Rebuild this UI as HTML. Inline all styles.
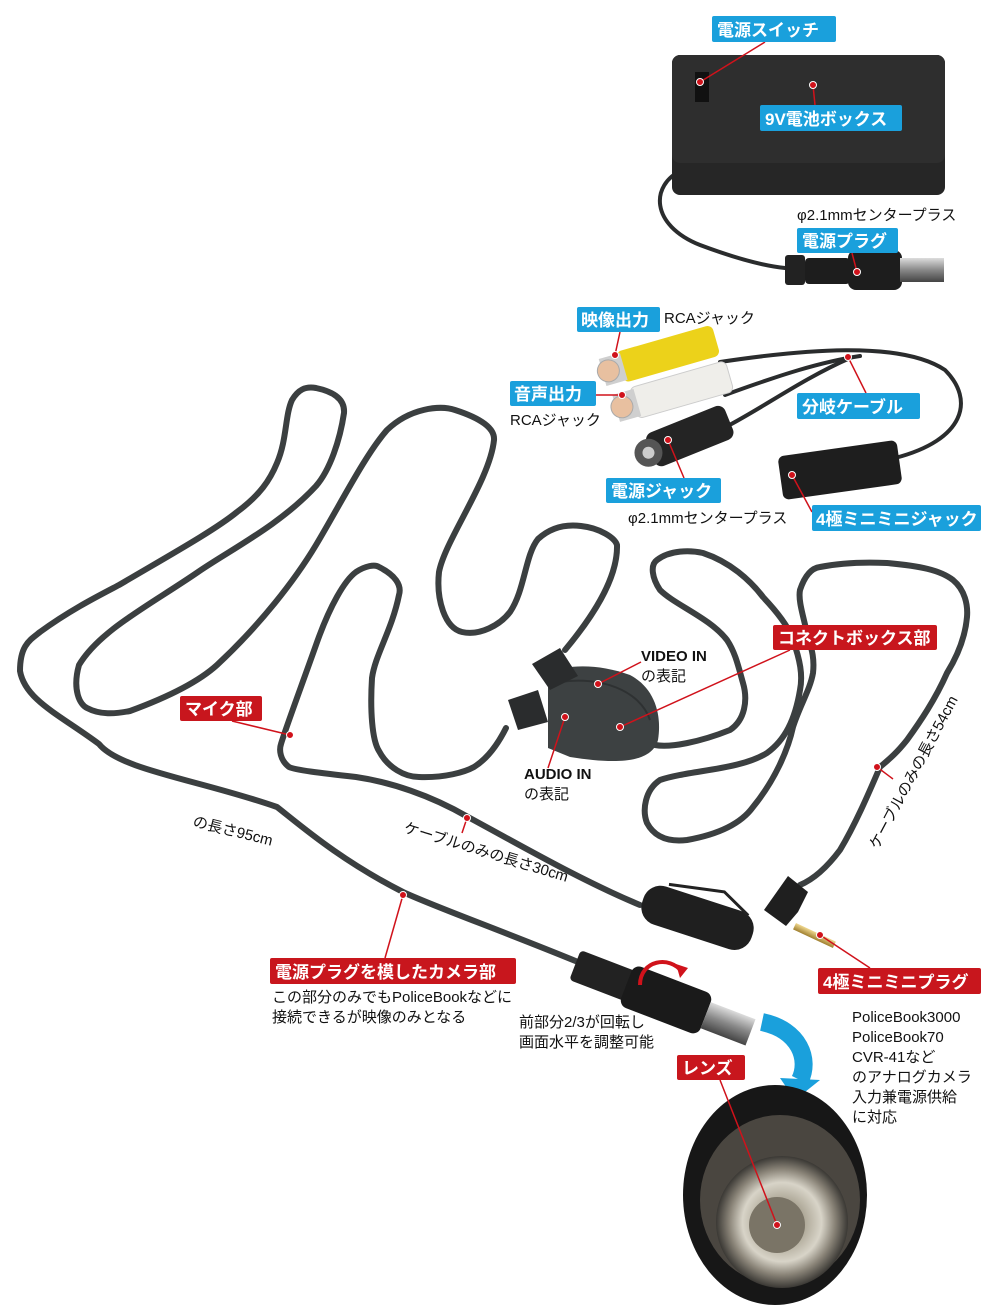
<!DOCTYPE html>
<html><head><meta charset="utf-8"><style>
html,body{margin:0;padding:0;background:#fff}
svg{display:block}
text{font-family:"Liberation Sans Narrow","Liberation Sans","Noto Sans CJK JP",sans-serif}
.lb{font-family:"Liberation Sans","Noto Sans CJK JP",sans-serif;font-weight:bold;fill:#fff;font-size:17px}
.t{fill:#111;font-size:15px}
.b{fill:#111;font-size:15px;font-weight:bold}
.c{fill:none;stroke:#3b3f40;stroke-width:6;stroke-linecap:round;stroke-linejoin:round}
.c2{fill:none;stroke:#2a2c2d;stroke-width:4;stroke-linecap:round;stroke-linejoin:round}
.ld{stroke:#d0121b;stroke-width:1.5;fill:none}
.dot{fill:#d0121b;stroke:#fff;stroke-width:1}
</style></head><body>
<svg width="1000" height="1310" viewBox="0 0 1000 1310" xmlns="http://www.w3.org/2000/svg">
<defs>
<linearGradient id="met" x1="0" y1="0" x2="0" y2="1"><stop offset="0" stop-color="#ddd"/><stop offset=".5" stop-color="#888"/><stop offset="1" stop-color="#444"/></linearGradient>
<linearGradient id="gold" x1="0" y1="0" x2="0" y2="1"><stop offset="0" stop-color="#f0d890"/><stop offset="1" stop-color="#a08030"/></linearGradient>
<radialGradient id="lens" cx=".5" cy=".5" r=".5"><stop offset="0" stop-color="#6a6658"/><stop offset=".35" stop-color="#b0aa9a"/><stop offset=".6" stop-color="#d8d4c8"/><stop offset=".8" stop-color="#8a8478"/><stop offset="1" stop-color="#3a3834"/></radialGradient>
</defs>

<!-- battery box -->
<path class="c2" d="M682,170 C650,185 650,225 700,245 C740,260 765,266 785,268"/>
<rect x="672" y="55" width="273" height="140" rx="8" fill="#262626"/>
<rect x="672" y="55" width="273" height="108" rx="8" fill="#2e2e2e"/>
<rect x="695" y="72" width="14" height="30" fill="#111"/>
<rect x="785" y="255" width="20" height="30" rx="3" fill="#222"/>
<rect x="805" y="258" width="45" height="26" rx="4" fill="#1d1d1d"/>
<rect x="848" y="250" width="54" height="40" rx="8" fill="#1d1d1d"/>
<rect x="900" y="258" width="44" height="24" fill="url(#met)"/>

<!-- branch cable -->
<path class="c2" d="M720,362 C800,350 900,340 945,370 C975,400 965,440 895,458"/>
<path class="c2" d="M725,395 C780,375 820,362 860,356"/>
<path class="c2" d="M720,430 C760,410 800,380 850,358"/>
<g transform="rotate(-8 840 470)"><rect x="780" y="448" width="120" height="44" rx="6" fill="#1e1e1e"/></g>
<g transform="rotate(-16 660 355)">
<rect x="618" y="340" width="100" height="32" rx="6" fill="#ecd21a"/>
<rect x="600" y="342" width="22" height="28" fill="#cfcfcf"/><circle cx="606" cy="356" r="11" fill="#e8c0a0" stroke="#aaa"/></g>
<g transform="rotate(-16 670 393)">
<rect x="632" y="377" width="100" height="32" rx="6" fill="#efeeea" stroke="#ccc"/>
<rect x="614" y="379" width="22" height="28" fill="#cfcfcf"/><circle cx="620" cy="393" r="11" fill="#e8c0a0" stroke="#aaa"/></g>
<g transform="rotate(-22 680 440)">
<rect x="648" y="422" width="85" height="36" rx="8" fill="#242424"/>
<circle cx="646" cy="440" r="14" fill="#555"/><circle cx="646" cy="440" r="6" fill="#ccc"/></g>

<!-- long cable (camera -> video in) -->
<path class="c" d="M578,962 C500,930 430,905 403,892 C340,860 300,825 277,807 C200,780 120,770 99,744 C60,715 25,700 20,671 C20,645 30,640 40,632 C70,610 100,595 119,585 C170,555 215,530 237,512 C260,495 270,480 277,463 C287,440 285,415 292,400 C298,390 305,386 316,388 C335,392 345,400 344,413 C340,440 330,470 316,486 C280,525 230,550 198,572 C150,605 100,630 79,665 C72,690 80,705 87,708 C100,715 115,714 130,711 C160,700 195,685 217,665 C260,625 295,580 316,545 C340,505 365,455 387,430 C410,408 440,405 455,410 C480,418 495,428 494,440 C490,480 445,540 439,572 C436,600 445,628 462,632 C480,636 500,625 510,612 C525,590 525,555 538,539 C550,528 565,524 581,526 C600,528 615,538 617,545 C618,580 590,620 565,650"/>
<!-- mic cable -->
<path class="c" d="M640,905 C580,880 520,845 468,817 C430,795 390,782 356,777 C320,773 295,770 289,767 C280,760 279,750 281,744 C285,730 300,690 316,645 C330,605 345,580 356,572 C365,566 375,564 379,567 C395,575 402,585 399,595 C392,630 375,655 372,678 C370,710 372,740 379,751 C388,768 405,777 419,777 C445,778 465,772 474,767 C490,757 500,740 506,728"/>
<!-- right cable -->
<path class="c" d="M655,745 C670,748 700,742 730,730 C745,720 748,700 743,683 C738,665 735,652 727,640 C710,618 675,605 660,590 C652,578 650,565 657,560 C670,550 690,550 703,553 C730,562 750,580 763,597 C780,615 790,630 793,640 C800,660 803,675 800,690 C795,720 785,740 767,753 C740,770 690,770 660,780 C645,790 642,810 647,823 C655,838 670,842 687,840 C715,835 740,825 753,807 C775,780 788,750 793,727 C800,705 810,690 813,673 C815,655 810,645 807,633 C803,615 798,600 800,590 C805,575 812,568 820,567 C840,563 865,562 887,563 C920,566 940,570 953,580 C965,590 968,605 967,617 C965,640 955,660 947,673 C935,700 920,722 907,740 C895,755 888,760 880,767 C868,795 855,825 840,850 C825,870 812,880 800,885"/>
<!-- connect box -->
<path d="M548,672 C570,664 600,664 630,675 C655,688 662,715 658,740 C652,762 620,765 570,757 L548,748 Z" fill="#3d4142"/>
<path d="M560,682 C600,676 640,690 650,720" stroke="#2e3132" stroke-width="2" fill="none"/>
<path d="M532,664 l28,-16 l18,28 l-28,14 z" fill="#2a2c2d"/>
<path d="M508,700 l30,-10 l10,32 l-30,8 z" fill="#2a2c2d"/>
<!-- mic -->
<g transform="rotate(18 698 918)">
<rect x="640" y="898" width="115" height="40" rx="18" fill="#1f1f1f"/>
<path d="M660,895 l55,-10 l30,15" stroke="#222" stroke-width="3" fill="none"/>
</g>
<!-- 4 pole plug -->
<path d="M788,876 l20,16 l-10,20 l-12,14 l-22,-16 z" fill="#1f1f1f"/>
<rect x="796" y="923" width="44" height="7" fill="url(#gold)" transform="rotate(25 796 923)"/>
<!-- camera plug -->
<g transform="translate(575,965) rotate(21)">
<rect x="0" y="-16" width="60" height="32" rx="4" fill="#222"/>
<rect x="55" y="-22" width="85" height="44" rx="8" fill="#1a1a1a"/>
<rect x="140" y="-14" width="48" height="28" fill="url(#met)"/>
</g>
<path d="M640,985 C640,960 670,955 682,972" stroke="#d0121b" stroke-width="4" fill="none"/>
<polygon points="676,964 688,968 680,978" fill="#d0121b"/>
<!-- blue arrow -->
<path d="M762,1022 C800,1030 810,1060 800,1080" stroke="#1aa0dc" stroke-width="18" fill="none"/>
<polygon points="780,1078 820,1080 795,1100" fill="#1aa0dc"/>
<!-- lens -->
<ellipse cx="775" cy="1195" rx="92" ry="110" fill="#171717"/>
<ellipse cx="780" cy="1200" rx="80" ry="85" fill="#4a4640"/>
<circle cx="782" cy="1222" r="66" fill="url(#lens)"/>
<circle cx="777" cy="1225" r="28" fill="#7a7466"/>
<circle cx="777" cy="1225" r="4" fill="#222"/>

<!-- leaders -->
<g class="ld">
<path d="M765,42 L700,82"/><path d="M815,105 L813,85"/>
<path d="M852,253 L857,272"/><path d="M620,332 L615,355"/>
<path d="M596,395 L622,395"/><path d="M866,393 L848,357"/>
<path d="M684,478 L668,440"/><path d="M812,512 L792,475"/>
<path d="M641,662 L598,684"/><path d="M790,650 L620,727"/>
<path d="M548,768 L565,717"/><path d="M232,721 L290,735"/>
<path d="M385,958 L403,895"/><path d="M870,968 L820,935"/>
<path d="M720,1080 L777,1225"/><path d="M467,818 L462,833"/><path d="M877,767 L893,779"/>
</g>
<g class="dot">
<circle cx="700" cy="82" r="3.5"/><circle cx="813" cy="85" r="3.5"/><circle cx="857" cy="272" r="3.5"/>
<circle cx="615" cy="355" r="3.5"/><circle cx="622" cy="395" r="3.5"/><circle cx="848" cy="357" r="3.5"/>
<circle cx="668" cy="440" r="3.5"/><circle cx="792" cy="475" r="3.5"/><circle cx="598" cy="684" r="3.5"/>
<circle cx="620" cy="727" r="3.5"/><circle cx="565" cy="717" r="3.5"/><circle cx="290" cy="735" r="3.5"/>
<circle cx="403" cy="895" r="3.5"/><circle cx="820" cy="935" r="3.5"/><circle cx="877" cy="767" r="3.5"/>
<circle cx="467" cy="818" r="3.5"/><circle cx="777" cy="1225" r="3.5"/>
</g>

<!-- blue labels -->
<g fill="#1aa0dc">
<rect x="712" y="16" width="124" height="26" rx="2"/>
<rect x="760" y="105" width="142" height="26" rx="2"/>
<rect x="797" y="228" width="101" height="25" rx="2"/>
<rect x="577" y="307" width="83" height="25" rx="2"/>
<rect x="510" y="381" width="86" height="25" rx="2"/>
<rect x="797" y="393" width="123" height="26" rx="2"/>
<rect x="606" y="478" width="115" height="25" rx="2"/>
<rect x="812" y="505" width="169" height="26" rx="2"/>
</g>
<text class="lb" x="717" y="36">電源スイッチ</text>
<text class="lb" x="765" y="125">9V電池ボックス</text>
<text class="lb" x="802" y="247">電源プラグ</text>
<text class="lb" x="581" y="326">映像出力</text>
<text class="lb" x="514" y="400">音声出力</text>
<text class="lb" x="802" y="413">分岐ケーブル</text>
<text class="lb" x="611" y="497">電源ジャック</text>
<text class="lb" x="816" y="525">4極ミニミニジャック</text>
<!-- red labels -->
<g fill="#c8161d">
<rect x="773" y="625" width="164" height="25" rx="2"/>
<rect x="180" y="696" width="82" height="25" rx="2"/>
<rect x="270" y="958" width="246" height="26" rx="2"/>
<rect x="818" y="968" width="163" height="26" rx="2"/>
<rect x="677" y="1055" width="68" height="25" rx="2"/>
</g>
<text class="lb" x="778" y="644">コネクトボックス部</text>
<text class="lb" x="185" y="715">マイク部</text>
<text class="lb" x="275" y="978">電源プラグを模したカメラ部</text>
<text class="lb" x="823" y="988">4極ミニミニプラグ</text>
<text class="lb" x="682" y="1074">レンズ</text>

<!-- plain text -->
<text class="t" x="797" y="220">φ2.1mmセンタープラス</text>
<text class="t" x="664" y="323">RCAジャック</text>
<text class="t" x="510" y="425">RCAジャック</text>
<text class="t" x="628" y="523">φ2.1mmセンタープラス</text>
<text class="b" x="641" y="661">VIDEO IN</text><text class="t" x="641" y="681">の表記</text>
<text class="b" x="524" y="779">AUDIO IN</text><text class="t" x="524" y="799">の表記</text>
<text class="t" x="192" y="826" transform="rotate(14 192 826)">の長さ95cm</text>
<text class="t" x="403" y="832" transform="rotate(17 403 832)">ケーブルのみの長さ30cm</text>
<text class="t" x="878" y="850" transform="rotate(-62 878 850)">ケーブルのみの長さ54cm</text>
<text class="t" x="272" y="1002">この部分のみでもPoliceBookなどに</text>
<text class="t" x="272" y="1022">接続できるが映像のみとなる</text>
<text class="t" x="519" y="1027">前部分2/3が回転し</text>
<text class="t" x="519" y="1047">画面水平を調整可能</text>
<text class="t" x="852" y="1022">PoliceBook3000</text>
<text class="t" x="852" y="1042">PoliceBook70</text>
<text class="t" x="852" y="1062">CVR-41など</text>
<text class="t" x="852" y="1082">のアナログカメラ</text>
<text class="t" x="852" y="1102">入力兼電源供給</text>
<text class="t" x="852" y="1122">に対応</text>
</svg>
</body></html>
